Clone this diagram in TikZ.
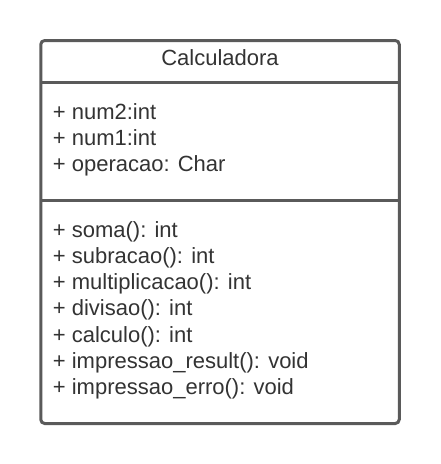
\documentclass[tikz,border=0pt]{standalone}
\usepackage{fontspec}
\setmainfont{Liberation Sans}
\definecolor{linegray}{HTML}{5A5A5A}
\definecolor{textgray}{HTML}{333333}
\tikzset{
  umlbox/.style={draw=linegray, line width=3pt, rounded corners=4pt, fill=white},
  sepline/.style={draw=linegray, line width=3pt},
  member/.style={anchor=base west, inner sep=0pt, text=textgray, font=\fontsize{22}{26}\selectfont},
  title/.style={anchor=base, inner sep=0pt, text=textgray, font=\fontsize{22}{26}\selectfont}
}
\begin{document}
\begin{tikzpicture}[x=1pt,y=-1pt]
\useasboundingbox (0,0) rectangle (440,464);
\node[umlbox, minimum width=358.5pt, minimum height=383pt, inner sep=0pt] (box) at (220,232) {};
\coordinate (s1l) at (40.5,82.3);
\coordinate (s1r) at (399,82.3);
\coordinate (s2l) at (40.5,200.8);
\coordinate (s2r) at (399,200.8);
\draw[sepline] (s1l) -- (s1r);
\draw[sepline] (s2l) -- (s2r);
\node[title] (t) at (220,65.7) {Calculadora};
\node[member] (a1) at (52.7,119.3) {+ num2:int};
\node[member] (a2) at (52.7,145.5) {+ num1:int};
\node[member] (a3) at (52.7,171.7) {+ operacao: Char};
\node[member] (m1) at (52.7,237) {+ soma(): int};
\node[member] (m2) at (52.7,263.3) {+ subracao(): int};
\node[member] (m3) at (52.7,289.6) {+ multiplicacao(): int};
\node[member] (m4) at (52.7,315.9) {+ divisao(): int};
\node[member] (m5) at (52.7,342.2) {+ calculo(): int};
\node[member] (m6) at (52.7,368.5) {+ impressao\_result(): void};
\node[member] (m7) at (52.7,394.8) {+ impressao\_erro(): void};
\end{tikzpicture}
\end{document}
